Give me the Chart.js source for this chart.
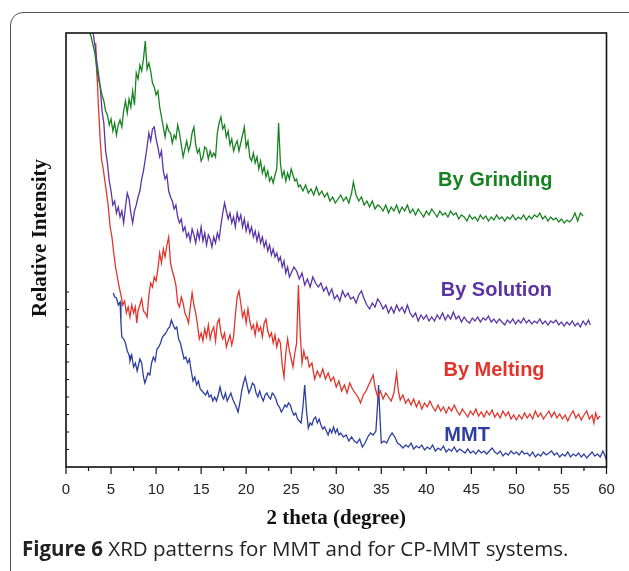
<!DOCTYPE html>
<html>
<head>
<meta charset="utf-8">
<script src="https://cdn.jsdelivr.net/npm/chart.js@4.4.1/dist/chart.umd.min.js"></script>
<style>
  body { margin: 0; background: #fff; }
  #wrap { position: relative; width: 629px; height: 571px; overflow: hidden; }
  #frame { position: absolute; left: 10px; top: 12px; width: 640px; height: 580px;
           border: 1px solid #555; border-radius: 13px; box-sizing: border-box; }
  #myChart { position: absolute; left: 0; top: 0; }
  #caption { position: absolute; left: 22px; top: 534px; font-family: "Open Sans", sans-serif;
             font-size: 20.5px; color: #222; white-space: nowrap; }
</style>
</head>
<body>
<div id="wrap">
  <div id="frame"></div>
  <canvas id="myChart" width="629" height="571"></canvas>
  <div id="caption"><b>Figure 6</b> XRD patterns for MMT and for CP-MMT systems.</div>
</div>
<script>
// 2 theta (degree) vs relative intensity (arbitrary units, traces offset)
const grinding = [[2.6,431],[2.8,426],[3.0,418],[3.2,410],[3.4,396],[3.6,384],[3.8,376],[4.0,368],[4.2,362],[4.4,352],[4.6,348],[4.8,338],[5.0,344],[5.2,332],[5.4,340],[5.6,328],[5.8,338],[6.0,343],[6.2,336],[6.4,352],[6.6,362],[6.8,350],[7.0,364],[7.2,356],[7.4,372],[7.6,358],[7.8,390],[8.0,384],[8.2,398],[8.4,392],[8.6,404],[8.8,422],[9.0,394],[9.2,400],[9.4,392],[9.6,380],[9.8,376],[10.0,368],[10.2,372],[10.4,356],[10.6,346],[10.8,336],[11.0,326],[11.2,338],[11.4,332],[11.6,330],[11.8,320],[12.0,328],[12.2,324],[12.4,338],[12.6,330],[12.8,318],[13.0,306],[13.2,314],[13.4,322],[13.6,312],[13.8,318],[14.0,330],[14.2,336],[14.4,318],[14.6,310],[14.8,314],[15.0,302],[15.2,306],[15.4,316],[15.6,314],[15.8,304],[16.0,312],[16.2,306],[16.4,310],[16.6,306],[16.8,330],[17.0,340],[17.2,346],[17.4,334],[17.6,338],[17.8,326],[18.0,332],[18.2,318],[18.4,324],[18.6,312],[18.8,318],[19.0,322],[19.2,312],[19.4,320],[19.6,328],[19.8,336],[20.0,316],[20.2,322],[20.4,306],[20.6,302],[20.8,310],[21.0,300],[21.2,306],[21.4,294],[21.6,302],[21.8,290],[22.0,296],[22.2,286],[22.4,292],[22.6,282],[22.8,286],[23.0,280],[23.2,288],[23.4,294],[23.6,340],[23.8,300],[24.0,286],[24.2,292],[24.4,282],[24.6,290],[24.8,284],[25.0,294],[25.2,288],[25.4,282],[25.6,284],[25.8,276],[26.0,278],[26.3,272],[26.6,278],[26.9,270],[27.2,274],[27.5,268],[27.8,276],[28.1,268],[28.4,272],[28.7,266],[29.0,270],[29.3,262],[29.6,266],[29.9,260],[30.2,264],[30.5,268],[30.8,262],[31.1,266],[31.4,260],[31.7,270],[31.9,281],[32.2,268],[32.5,262],[32.8,266],[33.1,258],[33.4,262],[33.7,256],[34.0,262],[34.3,254],[34.6,258],[34.9,256],[35.2,252],[35.5,258],[35.8,250],[36.1,256],[36.4,252],[36.7,258],[37.0,250],[37.3,256],[37.6,252],[37.9,258],[38.2,250],[38.5,254],[38.8,248],[39.1,254],[39.4,250],[39.7,246],[40.0,252],[40.3,248],[40.6,254],[40.9,250],[41.2,246],[41.5,252],[41.8,248],[42.1,250],[42.4,246],[42.7,252],[43.0,248],[43.3,250],[43.6,244],[43.9,248],[44.2,246],[44.5,242],[44.8,248],[45.1,244],[45.4,246],[45.7,242],[46.0,248],[46.3,244],[46.6,247],[46.9,242],[47.2,246],[47.5,243],[47.8,248],[48.1,244],[48.4,246],[48.7,242],[49.0,246],[49.3,244],[49.6,248],[49.9,243],[50.2,246],[50.5,244],[50.8,248],[51.1,243],[51.4,247],[51.7,244],[52.0,248],[52.3,246],[52.6,250],[52.9,244],[53.2,247],[53.5,242],[53.8,246],[54.1,243],[54.4,245],[54.7,241],[55.0,244],[55.3,240],[55.6,243],[55.9,241],[56.2,244],[56.5,250],[56.8,242],[57.1,250],[57.4,247]];

const solution = [[3.0,431],[3.2,418],[3.4,403],[3.6,390],[3.8,376],[4.0,352],[4.2,340],[4.4,312],[4.6,300],[4.8,282],[5.0,272],[5.2,258],[5.4,262],[5.6,250],[5.8,256],[6.0,246],[6.2,252],[6.4,240],[6.6,256],[6.8,270],[7.0,264],[7.2,250],[7.4,240],[7.6,252],[7.8,258],[8.0,266],[8.2,272],[8.4,284],[8.6,292],[8.8,304],[9.0,316],[9.2,330],[9.4,322],[9.6,334],[9.8,336],[10.0,324],[10.2,316],[10.4,306],[10.6,312],[10.8,292],[11.0,284],[11.2,288],[11.4,272],[11.6,266],[11.8,262],[12.0,254],[12.2,258],[12.4,246],[12.6,240],[12.8,244],[13.0,232],[13.2,236],[13.4,226],[13.6,230],[13.8,222],[14.0,234],[14.2,228],[14.4,220],[14.6,232],[14.8,224],[15.0,236],[15.2,222],[15.4,230],[15.6,218],[15.8,228],[16.0,224],[16.2,216],[16.4,226],[16.6,220],[16.8,230],[17.0,224],[17.2,238],[17.4,250],[17.6,260],[17.8,252],[18.0,244],[18.2,250],[18.4,240],[18.6,246],[18.8,236],[19.0,250],[19.2,242],[19.4,248],[19.6,236],[19.8,244],[20.0,232],[20.2,240],[20.4,230],[20.6,236],[20.8,226],[21.0,232],[21.2,222],[21.4,230],[21.6,220],[21.8,226],[22.0,216],[22.2,222],[22.4,212],[22.6,218],[22.8,208],[23.0,214],[23.2,206],[23.4,210],[23.6,202],[23.8,206],[24.0,196],[24.2,202],[24.4,190],[24.6,196],[24.8,186],[25.0,190],[25.3,196],[25.6,192],[25.9,184],[26.2,190],[26.5,178],[26.8,184],[27.1,176],[27.4,186],[27.7,180],[28.0,176],[28.3,180],[28.6,172],[28.9,176],[29.2,168],[29.5,174],[29.8,164],[30.1,168],[30.4,162],[30.7,172],[31.0,166],[31.3,170],[31.6,164],[31.9,166],[32.2,160],[32.5,168],[32.8,172],[33.1,164],[33.4,158],[33.7,154],[34.0,160],[34.3,156],[34.6,164],[34.9,160],[35.2,154],[35.5,158],[35.8,150],[36.1,156],[36.4,150],[36.7,158],[37.0,152],[37.3,156],[37.6,150],[37.9,158],[38.2,150],[38.5,146],[38.8,150],[39.1,142],[39.4,148],[39.7,144],[40.0,148],[40.3,142],[40.6,146],[40.9,142],[41.2,148],[41.5,144],[41.8,150],[42.1,143],[42.4,148],[42.7,144],[43.0,151],[43.3,144],[43.6,147],[43.9,141],[44.2,146],[44.5,142],[44.8,140],[45.1,145],[45.4,142],[45.7,146],[46.0,141],[46.3,145],[46.6,143],[46.9,147],[47.2,141],[47.5,144],[47.8,140],[48.1,144],[48.4,141],[48.7,138],[49.0,143],[49.3,140],[49.6,144],[49.9,139],[50.2,143],[50.5,140],[50.8,145],[51.1,140],[51.4,143],[51.7,139],[52.0,142],[52.3,140],[52.6,144],[52.9,139],[53.2,142],[53.5,138],[53.8,142],[54.1,140],[54.4,143],[54.7,138],[55.0,141],[55.3,137],[55.6,141],[55.9,138],[56.2,142],[56.5,137],[56.8,140],[57.1,136],[57.4,142],[57.7,138],[58.0,143],[58.2,138]];

const melting = [[3.3,420],[3.4,392],[3.5,378],[3.6,356],[3.7,340],[3.8,322],[3.95,303],[4.1,296],[4.3,283],[4.5,270],[4.7,256],[4.9,236],[5.1,226],[5.3,210],[5.5,196],[5.7,186],[5.9,176],[6.1,168],[6.3,158],[6.5,162],[6.7,150],[6.9,156],[7.1,146],[7.3,158],[7.5,150],[7.7,156],[7.85,140],[8.0,152],[8.2,158],[8.4,164],[8.6,152],[8.8,150],[9.0,146],[9.2,168],[9.4,180],[9.6,176],[9.8,186],[10.0,182],[10.2,194],[10.4,210],[10.6,200],[10.8,214],[11.0,206],[11.2,218],[11.4,226],[11.6,200],[11.8,192],[12.0,186],[12.2,178],[12.4,160],[12.6,156],[12.8,166],[13.0,160],[13.2,150],[13.4,146],[13.6,140],[13.8,156],[14.0,170],[14.2,158],[14.4,150],[14.6,138],[14.8,124],[15.0,130],[15.2,122],[15.4,134],[15.6,126],[15.8,138],[16.0,124],[16.2,132],[16.4,136],[16.6,122],[16.8,140],[17.0,144],[17.2,130],[17.4,124],[17.6,130],[17.8,116],[18.0,122],[18.2,128],[18.4,118],[18.6,126],[18.8,148],[19.0,166],[19.2,172],[19.4,160],[19.6,146],[19.8,152],[20.0,140],[20.2,154],[20.4,142],[20.6,134],[20.8,138],[21.0,128],[21.2,140],[21.4,132],[21.6,136],[21.8,126],[22.0,140],[22.2,144],[22.4,132],[22.6,126],[22.8,130],[23.0,120],[23.2,128],[23.4,116],[23.6,124],[23.8,120],[24.0,98],[24.2,86],[24.4,110],[24.6,124],[24.8,112],[25.0,104],[25.2,96],[25.4,110],[25.6,120],[25.8,178],[26.0,130],[26.2,100],[26.4,112],[26.6,104],[26.8,106],[27.0,96],[27.3,100],[27.6,84],[27.9,92],[28.2,86],[28.5,94],[28.8,84],[29.1,90],[29.4,82],[29.7,86],[30.0,76],[30.3,82],[30.6,72],[30.9,78],[31.2,70],[31.5,80],[31.8,74],[32.1,70],[32.4,66],[32.7,60],[33.0,68],[33.3,72],[33.6,78],[33.9,84],[34.1,88],[34.3,76],[34.6,66],[34.9,72],[35.2,64],[35.5,70],[35.8,66],[36.1,62],[36.4,70],[36.7,90],[36.9,72],[37.1,63],[37.4,68],[37.7,60],[38.0,64],[38.3,58],[38.6,64],[38.9,56],[39.2,62],[39.5,54],[39.8,60],[40.1,56],[40.4,62],[40.7,56],[41.0,52],[41.3,58],[41.6,52],[41.9,56],[42.2,50],[42.5,56],[42.8,52],[43.1,58],[43.4,52],[43.7,48],[44.0,54],[44.3,50],[44.6,46],[44.9,52],[45.2,48],[45.5,54],[45.8,47],[46.1,51],[46.4,46],[46.7,52],[47.0,48],[47.3,53],[47.6,46],[47.9,50],[48.2,45],[48.5,52],[48.8,47],[49.1,51],[49.4,44],[49.7,48],[50.0,43],[50.3,48],[50.6,44],[50.9,50],[51.2,45],[51.5,49],[51.8,44],[52.1,52],[52.4,46],[52.7,50],[53.0,44],[53.3,48],[53.6,52],[53.9,46],[54.2,51],[54.5,45],[54.8,49],[55.1,44],[55.4,48],[55.7,42],[56.0,48],[56.3,52],[56.6,45],[56.9,49],[57.2,43],[57.5,48],[57.8,52],[58.1,44],[58.4,48],[58.6,40],[58.8,50],[59.0,44],[59.3,47]];

const mmt = [[5.26,170],[5.4,166],[5.6,165],[5.8,158],[6.0,161],[6.1,140],[6.2,126],[6.4,124],[6.6,120],[6.8,112],[7.0,108],[7.1,102],[7.3,108],[7.5,96],[7.7,100],[7.9,92],[8.0,96],[8.2,104],[8.4,100],[8.6,86],[8.75,80],[8.9,84],[9.1,90],[9.3,88],[9.5,100],[9.7,106],[9.9,102],[10.1,114],[10.3,116],[10.5,120],[10.7,126],[10.9,128],[11.1,130],[11.3,134],[11.5,136],[11.7,143],[11.9,138],[12.1,134],[12.3,136],[12.5,124],[12.7,120],[12.9,112],[13.1,104],[13.3,106],[13.5,100],[13.7,104],[13.9,92],[14.1,82],[14.3,86],[14.5,78],[14.7,82],[14.9,74],[15.1,72],[15.3,70],[15.5,68],[15.7,72],[15.9,66],[16.1,68],[16.3,62],[16.5,66],[16.7,62],[16.9,68],[17.1,76],[17.3,68],[17.5,64],[17.7,70],[17.9,62],[18.1,66],[18.3,70],[18.5,64],[18.7,60],[18.9,56],[19.1,51],[19.3,60],[19.5,72],[19.7,80],[19.9,86],[20.1,78],[20.3,70],[20.5,74],[20.7,80],[20.9,78],[21.1,70],[21.3,66],[21.5,72],[21.7,66],[21.9,62],[22.1,68],[22.3,70],[22.5,66],[22.7,64],[22.9,70],[23.1,68],[23.3,64],[23.5,58],[23.7,56],[23.9,51],[24.1,54],[24.3,58],[24.5,56],[24.7,60],[24.9,58],[25.1,52],[25.3,48],[25.5,50],[25.7,44],[25.9,42],[26.1,40],[26.3,56],[26.5,78],[26.7,52],[26.9,35],[27.1,40],[27.3,38],[27.5,44],[27.7,46],[27.9,40],[28.1,44],[28.3,38],[28.5,34],[28.7,36],[28.9,32],[29.1,28],[29.3,34],[29.5,30],[29.7,36],[29.9,30],[30.1,34],[30.3,28],[30.5,30],[30.8,26],[31.1,28],[31.4,22],[31.7,26],[32.0,22],[32.3,20],[32.6,24],[32.9,16],[33.2,20],[33.5,26],[33.8,30],[34.1,28],[34.4,32],[34.6,60],[34.7,78],[34.8,56],[35.0,20],[35.3,22],[35.6,20],[35.9,26],[36.2,30],[36.5,26],[36.8,20],[37.1,18],[37.4,15],[37.7,18],[38.0,16],[38.3,20],[38.6,14],[38.9,17],[39.2,15],[39.5,18],[39.8,13],[40.1,16],[40.4,14],[40.7,18],[41.0,12],[41.3,15],[41.6,13],[41.9,17],[42.2,11],[42.5,14],[42.8,12],[43.1,16],[43.4,11],[43.7,14],[44.0,12],[44.3,10],[44.6,14],[44.9,10],[45.2,12],[45.5,9],[45.8,13],[46.1,10],[46.4,12],[46.7,9],[47.0,12],[47.3,15],[47.6,11],[47.9,9],[48.2,12],[48.5,7],[48.8,10],[49.1,8],[49.4,12],[49.7,9],[50.0,11],[50.3,8],[50.6,12],[50.9,9],[51.2,10],[51.5,7],[51.8,11],[52.1,6],[52.4,9],[52.7,7],[53.0,11],[53.3,8],[53.6,10],[53.9,12],[54.2,8],[54.5,10],[54.8,6],[55.1,9],[55.4,7],[55.7,11],[56.0,6],[56.3,9],[56.6,7],[56.9,10],[57.2,6],[57.5,9],[57.8,5],[58.1,8],[58.4,11],[58.7,7],[59.0,9],[59.3,6],[59.6,12],[59.8,8],[60.0,3]];

// curve labels, placed in data coordinates
const labelNames = ['By Grinding', 'By Solution', 'By Melting', 'MMT'];
const labelTheta = [41.3, 41.6, 41.9, 42.0];
const labelIntensity = [283, 173, 93, 28];

const colors = ['#168220', '#5a33a6', '#e3342b', '#2c3fa0'];

const toXY = arr => arr.map(p => ({x: p[0], y: p[1]}));

// box, inward y ticks, x tick marks, curve labels, y title
const framePlugin = {
  id: 'frame',
  afterDraw(chart) {
    const {ctx, chartArea: a, scales: {x, y}} = chart;
    ctx.save();
    ctx.strokeStyle = '#111';
    ctx.lineWidth = 1.6;
    ctx.strokeRect(a.left, a.top, a.right - a.left, a.bottom - a.top);
    ctx.lineWidth = 1.2;
    ctx.beginPath();
    for (let k = 1; k <= 10; k++) {
      const py = a.bottom - k * 17.5;
      ctx.moveTo(a.left, py);
      ctx.lineTo(a.left + 3, py);
    }
    for (let t = 0; t <= 60; t += 2.5) {
      const px = x.getPixelForValue(t);
      ctx.moveTo(px, a.bottom);
      ctx.lineTo(px, a.bottom + (t % 5 === 0 ? 7 : 4));
    }
    ctx.stroke();

    ctx.font = 'bold 20px "Liberation Sans", Arial, sans-serif';
    ctx.textAlign = 'left';
    ctx.textBaseline = 'middle';
    labelNames.forEach((name, i) => {
      ctx.fillStyle = colors[i];
      ctx.fillText(name, x.getPixelForValue(labelTheta[i]), y.getPixelForValue(labelIntensity[i]));
    });

    ctx.fillStyle = '#111';
    ctx.font = 'bold 21px "Liberation Serif", "Times New Roman", serif';
    ctx.textAlign = 'center';
    ctx.translate(41, 238);
    ctx.rotate(-Math.PI / 2);
    ctx.fillText('Relative Intensity', 0, 0);
    ctx.restore();
  }
};

new Chart(document.getElementById('myChart'), {
  type: 'line',
  data: {
    datasets: [
      {label: 'By Grinding', data: toXY(grinding), borderColor: colors[0]},
      {label: 'By Solution', data: toXY(solution), borderColor: colors[1]},
      {label: 'By Melting', data: toXY(melting), borderColor: colors[2]},
      {label: 'MMT', data: toXY(mmt), borderColor: colors[3]}
    ]
  },
  options: {
    responsive: false,
    animation: false,
    events: [],
    layout: {padding: {left: 66, right: 22.5, top: 33, bottom: 40}},
    elements: {
      line: {borderWidth: 1.3, tension: 0, fill: false},
      point: {radius: 0}
    },
    plugins: {legend: {display: false}, tooltip: {enabled: false}},
    scales: {
      x: {
        type: 'linear',
        min: 0,
        max: 60,
        afterFit: scale => { scale.height = 64; },
        grid: {display: false, drawTicks: false},
        border: {display: false},
        ticks: {
          stepSize: 5,
          padding: 14,
          color: '#222',
          font: {family: '"Liberation Sans", Arial, sans-serif', size: 15}
        },
        title: {
          display: true,
          text: '2 theta (degree)',
          color: '#111',
          padding: {top: 7, bottom: 0},
          font: {family: '"Liberation Serif", "Times New Roman", serif', size: 21, weight: 'bold'}
        }
      },
      y: {
        type: 'linear',
        display: false,
        min: -4,
        max: 430
      }
    }
  },
  plugins: [framePlugin]
});
</script>
</body>
</html>
